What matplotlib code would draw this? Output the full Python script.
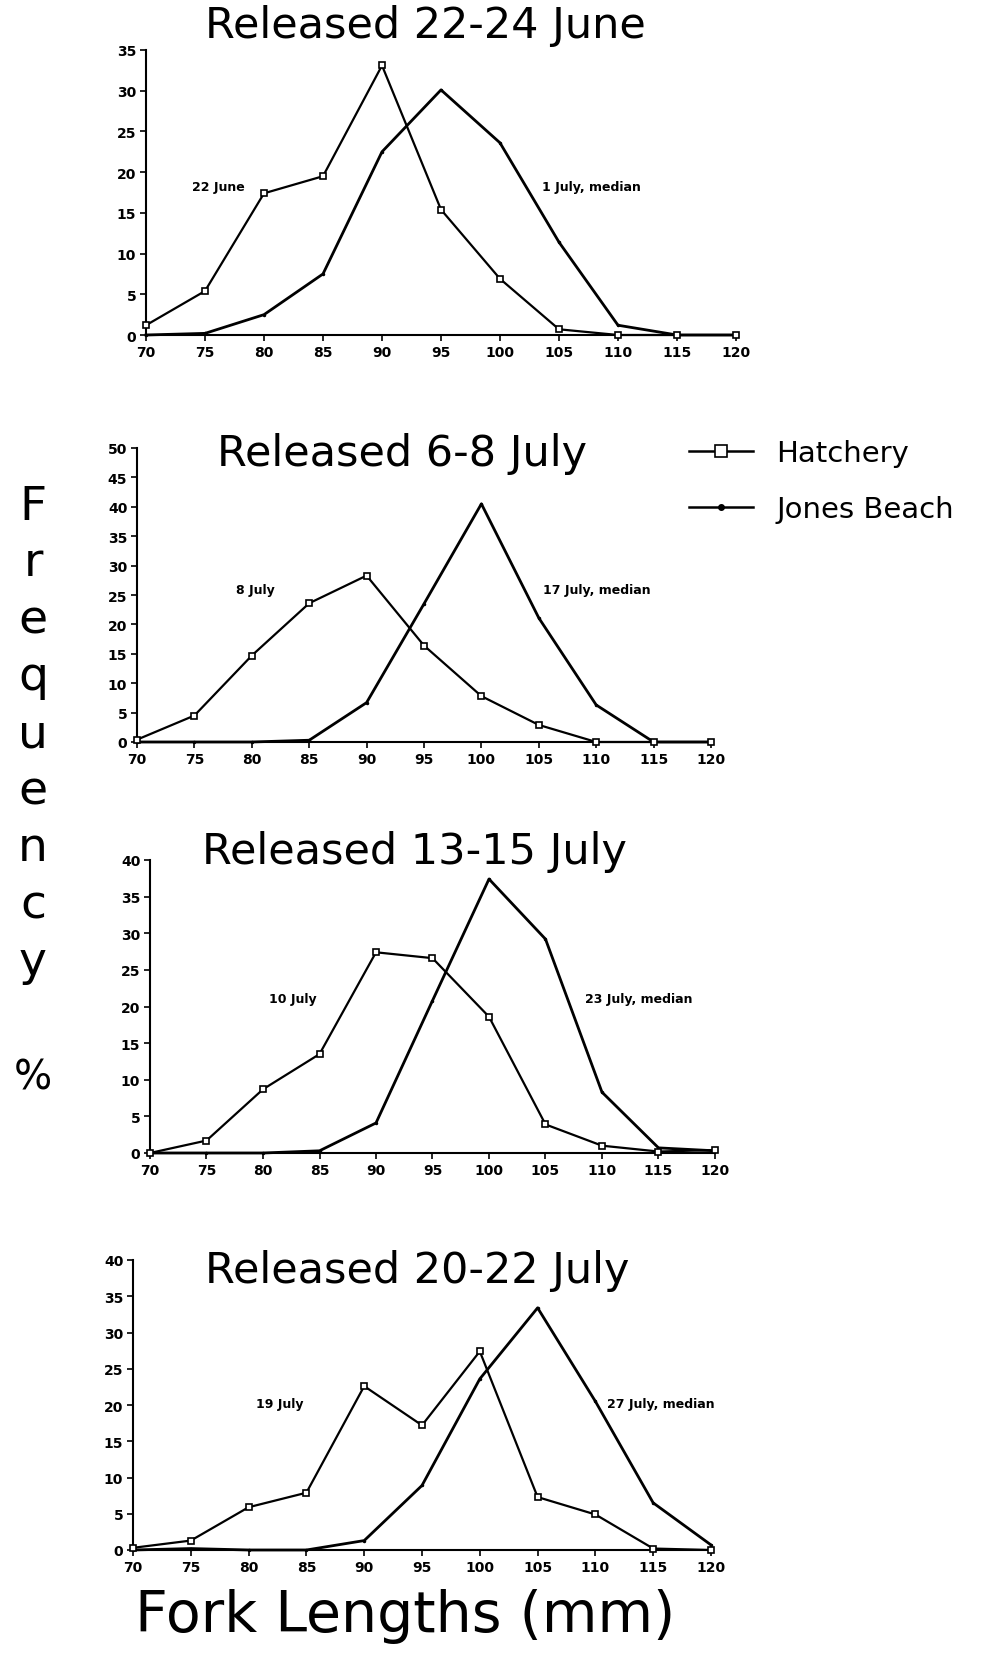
import matplotlib
matplotlib.use("Agg")
import matplotlib.pyplot as plt

lengths = [70, 75, 80, 85, 90, 95, 100, 105, 110, 115, 120]
tick_labels = ["70", "75", "80", "85", "90", "95", "100", "105", "110", "115", "120"]

titles = ["Released 22-24 June", "Released 6-8 July",
          "Released 13-15 July", "Released 20-22 July"]

hatchery_1 = [1.2, 5.4, 17.4, 19.5, 33.1, 15.4, 6.9, 0.7, 0.0, 0.0, 0.0]
jones_1 = [0.0, 0.2, 2.5, 7.5, 22.5, 30.1, 23.6, 11.4, 1.2, 0.0, 0.0]

hatchery_2 = [0.4, 4.5, 14.7, 23.6, 28.3, 16.4, 7.8, 2.9, 0.0, 0.0, 0.0]
jones_2 = [0.0, 0.0, 0.0, 0.3, 6.7, 23.5, 40.5, 21.1, 6.3, 0.0, 0.0]

hatchery_3 = [0.0, 1.7, 8.7, 13.5, 27.4, 26.6, 18.6, 3.9, 1.0, 0.2, 0.4]
jones_3 = [0.0, 0.0, 0.0, 0.3, 4.1, 20.8, 37.4, 29.2, 8.3, 0.7, 0.3]

hatchery_4 = [0.3, 1.3, 5.9, 7.9, 22.6, 17.2, 27.4, 7.3, 4.9, 0.2, 0.0]
jones_4 = [0.0, 0.2, 0.0, 0.0, 1.3, 8.9, 23.6, 33.4, 20.5, 6.5, 0.7]

ymax = [35, 50, 40, 40]

hatch_labels = ["22 June", "8 July", "10 July", "19 July"]
jones_labels = ["1 July, median", "17 July, median", "23 July, median", "27 July, median"]
hatch_label_pos = [(73.9, 18.2), (78.6, 25.9), (80.5, 21.1), (80.6, 20.2)]
jones_label_pos = [(103.6, 18.2), (105.4, 25.9), (108.5, 21.1), (111.0, 20.2)]

hatchery = [hatchery_1, hatchery_2, hatchery_3, hatchery_4]
jones = [jones_1, jones_2, jones_3, jones_4]

W, H = 990, 1656
fig = plt.figure(figsize=(W / 100, H / 100), dpi=100)

# axes boxes in pixels: left, right, top(y at max), bottom(y at 0)
boxes = [(146, 736, 51, 336), (137, 711, 449, 743),
         (150, 715, 861, 1154), (133, 711, 1261, 1551)]
title_pos = [(425, 26), (402, 454), (415, 852), (417, 1271)]

handles = None
for i in range(4):
    l, r, t, b = boxes[i]
    ax = fig.add_axes([l / W, 1 - b / H, (r - l) / W, (b - t) / H])
    hl, = ax.plot(lengths, hatchery[i], color="black", lw=1.6, marker="s",
                  markersize=5, markerfacecolor="white", markeredgecolor="black",
                  markeredgewidth=1.2, clip_on=False, zorder=3)
    jl, = ax.plot(lengths, jones[i], color="black", lw=2.0, marker="o",
                  markersize=1.5, clip_on=False, zorder=2)
    if handles is None:
        handles = (hl, jl)
    ax.set_xlim(70, 120)
    ax.set_ylim(0, ymax[i])
    ax.set_xticks(lengths)
    ax.set_xticklabels(tick_labels)
    ax.set_yticks(range(0, ymax[i] + 1, 5))
    for s in ["top", "right"]:
        ax.spines[s].set_visible(False)
    for s in ["left", "bottom"]:
        ax.spines[s].set_linewidth(1.5)
    ax.tick_params(axis="both", direction="out", length=4, width=1.2,
                   labelsize=10, pad=3)
    for lab in ax.get_xticklabels() + ax.get_yticklabels():
        lab.set_fontweight("bold")
    ax.text(*hatch_label_pos[i], hatch_labels[i], fontsize=9, fontweight="bold",
            ha="left", va="center")
    ax.text(*jones_label_pos[i], jones_labels[i], fontsize=9, fontweight="bold",
            ha="left", va="center")
    tx, ty = title_pos[i]
    fig.text(tx / W, 1 - ty / H, titles[i], fontsize=31, ha="center", va="center",
             family="DejaVu Sans")

# stacked y label
ylabel = "Frequency"
for k, ch in enumerate(ylabel):
    fig.text(33 / W, 1 - (507 + k * 57) / H, ch, fontsize=34, ha="center",
             va="center")
fig.text(33 / W, 1 - 1078 / H, "%", fontsize=29, ha="center", va="center")

fig.text(405 / W, 1 - 1617 / H, "Fork Lengths (mm)", fontsize=41, ha="center",
         va="center")

leg = fig.legend(handles, ["Hatchery", "Jones Beach"], loc="center left",
                 bbox_to_anchor=(689 / W, 1 - 482 / H), frameon=False,
                 fontsize=21, handlelength=2.2, handletextpad=0.8,
                 labelspacing=0.95, borderpad=0, borderaxespad=0)
for lh in leg.get_lines():
    lh.set_linewidth(1.8)
leg.get_lines()[0].set_markersize(9)
leg.get_lines()[1].set_markersize(4)

fig.savefig("out.png", dpi=100, facecolor="white")
